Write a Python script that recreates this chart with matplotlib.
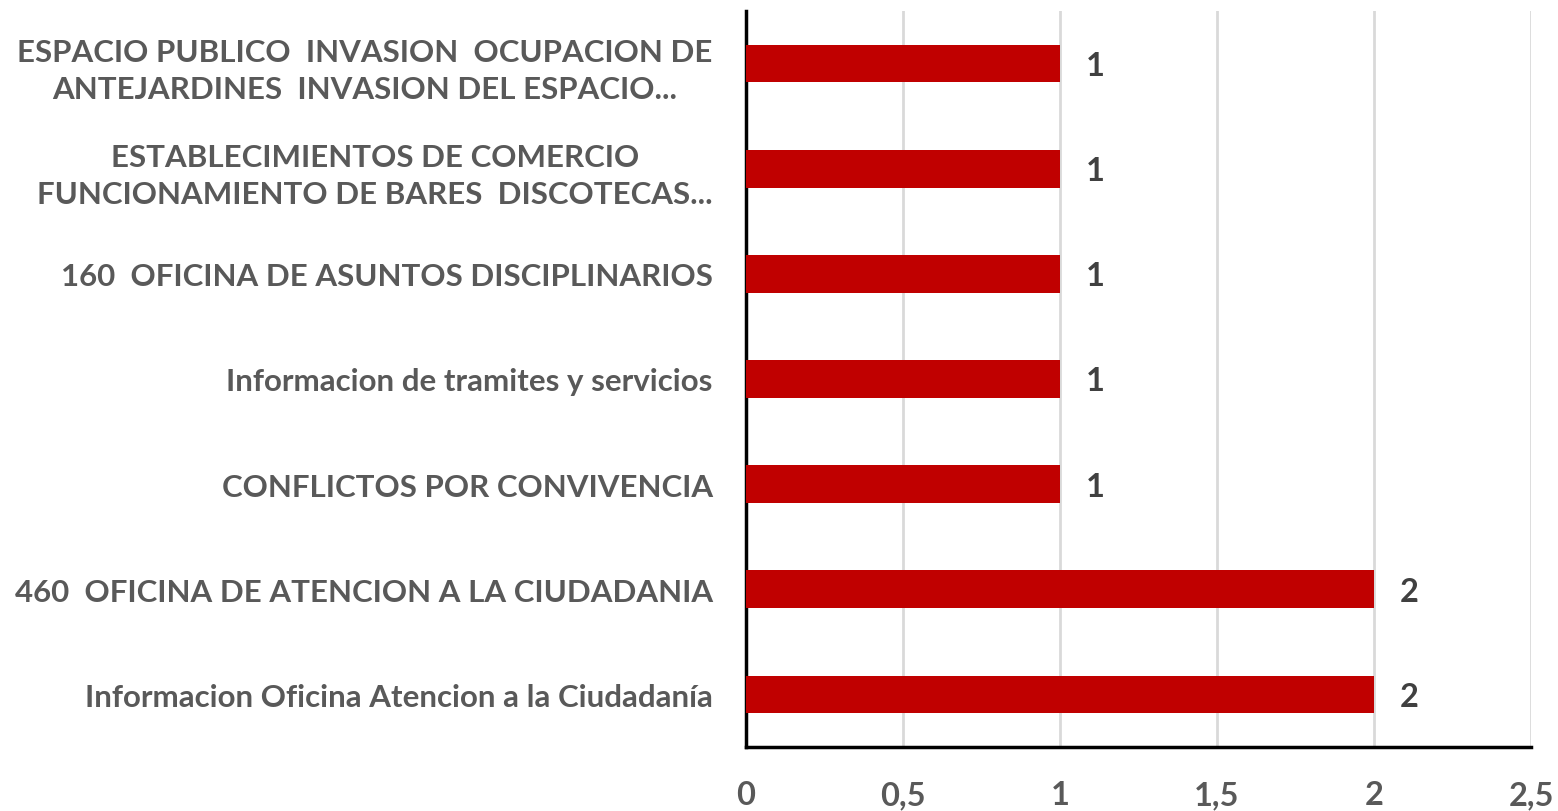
import matplotlib
matplotlib.use("Agg")
import matplotlib.pyplot as plt

categories = [
    "Informacion Oficina Atencion a la Ciudadanía",
    "460  OFICINA DE ATENCION A LA CIUDADANIA",
    "CONFLICTOS POR CONVIVENCIA",
    "Informacion de tramites y servicios",
    "160  OFICINA DE ASUNTOS DISCIPLINARIOS",
    "ESTABLECIMIENTOS DE COMERCIO\nFUNCIONAMIENTO DE BARES  DISCOTECAS...",
    "ESPACIO PUBLICO  INVASION  OCUPACION DE\nANTEJARDINES  INVASION DEL ESPACIO...",
]
values = [2, 2, 1, 1, 1, 1, 1]
xticks = [0, 0.5, 1, 1.5, 2, 2.5]
xtick_labels = ["0", "0,5", "1", "1,5", "2", "2,5"]

plt.rcParams['font.family'] = ['Lato', 'DejaVu Sans']
plt.rcParams['font.weight'] = 'bold'

fig = plt.figure(figsize=(15.58, 8.12), dpi=100)
ax = fig.add_axes([746/1558, 1-748/812, (1531-746)/1558, (748-12)/812])

y = list(range(len(categories)))
ax.barh(y, values, height=0.36, color='#C00000', zorder=3)
ax.set_xlim(0, 2.5)
ax.set_ylim(-0.5, len(categories) - 0.5)
ax.set_xticks(xticks)
ax.set_xticklabels(xtick_labels, fontsize=23.5)
ax.set_yticks(y)
ax.set_yticklabels(categories, multialignment='center', linespacing=1.4, fontsize=22.5)
ax.xaxis.grid(True, color='#D9D9D9', linewidth=2, zorder=0)
ax.tick_params(axis='both', length=0, colors='#595959')
ax.tick_params(axis='x', pad=24)
ax.tick_params(axis='y', pad=24)
for lab in ax.get_xticklabels() + ax.get_yticklabels():
    lab.set_fontweight('bold')

for s in ['top', 'right']:
    ax.spines[s].set_visible(False)
for s in ['left', 'bottom']:
    ax.spines[s].set_color('black')
    ax.spines[s].set_linewidth(2.5)

for yi, v in zip(y, values):
    ax.annotate(str(v), xy=(v, yi), xytext=(26, -2), textcoords='offset pixels',
                ha='left', va='center', fontsize=23.5, fontweight='bold', color='#404040')

fig.savefig('out.png', dpi=100)
